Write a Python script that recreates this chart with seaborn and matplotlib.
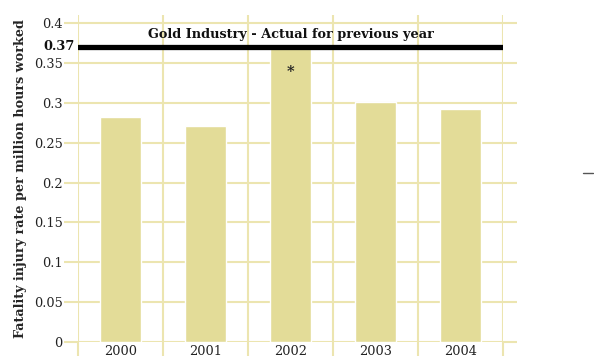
import matplotlib
matplotlib.use("Agg")
import matplotlib.pyplot as plt
import seaborn as sns
import pandas as pd
from matplotlib.lines import Line2D

years = ["2000", "2001", "2002", "2003", "2004"]
rates = [0.282, 0.271, 0.369, 0.301, 0.292]
benchmark = 0.37
benchmark_label = "Gold Industry - Actual for previous year"
yticks = [0, 0.05, 0.1, 0.15, 0.2, 0.25, 0.3, 0.35, 0.4]
ytick_labels = ["0", "0.05", "0.1", "0.15", "0.2", "0.25", "0.3", "0.35", "0.4"]

sns.set_style("white")
plt.rcParams["font.family"] = ["DejaVu Serif"]

bar_color = "#e3dc98"
grid_color = "#ece5b0"

df = pd.DataFrame({"year": years, "rate": rates})

fig = plt.figure(figsize=(5.94, 3.61), dpi=100)
ax = fig.add_axes([0.1313, 0.0526, 0.7155, 0.9058])

sns.barplot(data=df, x="year", y="rate", color=bar_color, saturation=1,
            width=0.48, ax=ax, zorder=2)

ax.set_xlim(-0.5, len(years) - 0.5)
ax.set_ylim(0, 0.41)

for s in ax.spines.values():
    s.set_visible(False)

# horizontal grid, with ticks reaching past both sides
ax.set_yticks(yticks)
ax.set_yticklabels(ytick_labels, fontsize=9.3)
ax.yaxis.grid(True, color=grid_color, linewidth=1.5, zorder=0)
ax.tick_params(axis="y", left=True, right=True, length=10, width=1.5,
               color=grid_color, pad=1, labelcolor="#222222")

# vertical grid at category boundaries
bounds = [i - 0.5 for i in range(len(years) + 1)]
ax.set_xticks(bounds, minor=True)
ax.xaxis.grid(True, which="minor", color=grid_color, linewidth=1.5, zorder=0)
ax.tick_params(axis="x", which="minor", bottom=True, length=10, width=1.5,
               color=grid_color)
ax.tick_params(axis="x", which="major", length=0, pad=2, labelsize=9.3,
               labelcolor="#222222")
ax.set_axisbelow(True)

ax.set_xlabel("")
ax.set_ylabel("Fatality injury rate per million hours worked", fontsize=9.2,
              fontweight="bold", labelpad=5)

# benchmark line
ax.axhline(benchmark, color="black", linewidth=3.8, zorder=3)
ax.text(2.0, benchmark + 0.007, benchmark_label, ha="center", va="bottom",
        fontsize=9.3, fontweight="bold", color="#111111")
ax.text(-0.54, benchmark, f"{benchmark:.2f}", ha="right", va="center",
        fontsize=9.3, fontweight="bold", color="#111111",
        transform=ax.transData)

# note marker on 2002
ax.text(2, 0.339, "*", ha="center", va="center", fontsize=10.5,
        fontweight="bold", color="#222222")

# stray legend dash at the right
fig.add_artist(Line2D([583 / 594, 593 / 594], [1 - 173 / 361, 1 - 173 / 361],
                      color="#555555", linewidth=1, transform=fig.transFigure))

fig.savefig("out.png", dpi=100)
